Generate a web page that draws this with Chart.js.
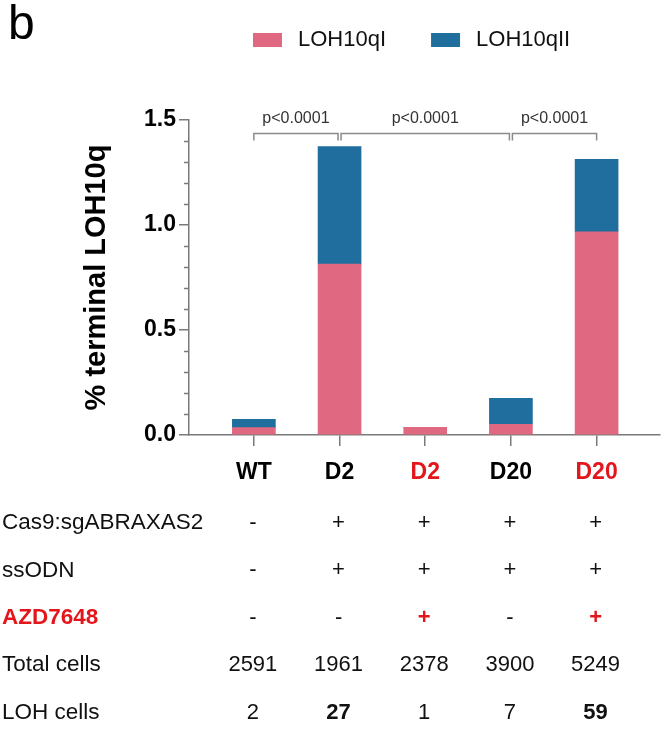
<!DOCTYPE html>
<html>
<head>
<meta charset="utf-8">
<script src="https://cdn.jsdelivr.net/npm/chart.js@4.4.0/dist/chart.umd.min.js"></script>
<style>
  html, body { margin: 0; padding: 0; background: #fff; }
  canvas { display: block; }
</style>
</head>
<body>
<canvas id="lohChart" width="670" height="739"></canvas>
<script>
// categories and values
const categories = ['WT', 'D2', 'D2', 'D20', 'D20'];
const categoryColors = ['#000000', '#000000', '#e3161c', '#000000', '#e3161c'];
const loh10qI = [0.035, 0.814, 0.037, 0.051, 0.968];
const loh10qII = [0.040, 0.559, 0, 0.124, 0.345];
const yMajorTicks = [0, 0.5, 1.0, 1.5];

// table under the chart
const rowLabels = ['Cas9:sgABRAXAS2', 'ssODN', 'AZD7648', 'Total cells', 'LOH cells'];
const cas9Row = ['-', '+', '+', '+', '+'];
const ssodnRow = ['-', '+', '+', '+', '+'];
const azdRow = ['-', '-', '+', '-', '+'];
const totalCells = [2591, 1961, 2378, 3900, 5249];
const lohCells = [2, 27, 1, 7, 59];
const lohBold = [false, true, false, false, true];

// significance brackets
const comparisons = [[0, 1], [1, 3], [3, 4]];
const pLabels = ['p<0.0001', 'p<0.0001', 'p<0.0001'];

const FONT = '"Liberation Sans", Arial, sans-serif';
const axisColor = '#7a7a7a';
const red = '#e3161c';

Chart.defaults.font.family = FONT;
Chart.defaults.color = '#000';

function isMajor(v) {
    return yMajorTicks.some(m => Math.abs(m - v) < 1e-6);
}

// dessin des éléments hors Chart.js : lettre, légende, crochets, tableau
const figureExtras = {
    id: 'figureExtras',
    afterDraw(chart) {
        const ctx = chart.ctx;
        const xs = chart.scales.x;
        const ys = chart.scales.y;
        ctx.save();

        // panel letter
        ctx.fillStyle = '#000';
        ctx.font = '48px ' + FONT;
        ctx.textAlign = 'left';
        ctx.textBaseline = 'alphabetic';
        ctx.fillText('b', 8, 39);

        // legend
        ctx.font = '22px ' + FONT;
        ctx.textBaseline = 'middle';
        let lx = 253;
        chart.data.datasets.forEach(ds => {
            ctx.fillStyle = ds.backgroundColor;
            ctx.fillRect(lx, 33, 29, 14);
            ctx.fillStyle = '#111';
            ctx.fillText(ds.label, lx + 45, 40);
            lx += 45 + ctx.measureText(ds.label).width + 45;
        });

        // minor y ticks
        ctx.strokeStyle = axisColor;
        ctx.lineWidth = 1.5;
        ys.ticks.forEach(t => {
            if (isMajor(t.value)) return;
            const py = Math.round(ys.getPixelForValue(t.value)) + 0.5;
            ctx.beginPath();
            ctx.moveTo(xs.left - 5, py);
            ctx.lineTo(xs.left, py);
            ctx.stroke();
        });

        // significance brackets
        const by = 133.5;
        comparisons.forEach(([a, b], k) => {
            let x1 = xs.getPixelForValue(a);
            let x2 = xs.getPixelForValue(b);
            if (k > 0) x1 += 1.5;
            if (k < comparisons.length - 1) x2 -= 1.5;
            ctx.strokeStyle = '#8a8a8a';
            ctx.lineWidth = 1.5;
            ctx.beginPath();
            ctx.moveTo(x1, by + 7);
            ctx.lineTo(x1, by);
            ctx.lineTo(x2, by);
            ctx.lineTo(x2, by + 7);
            ctx.stroke();
            ctx.fillStyle = '#333';
            ctx.font = '16px ' + FONT;
            ctx.textAlign = 'center';
            ctx.textBaseline = 'alphabetic';
            ctx.fillText(pLabels[k], (x1 + x2) / 2, 123);
        });

        // table
        const rows = [cas9Row, ssodnRow, azdRow, totalCells, lohCells];
        ctx.textBaseline = 'middle';
        rowLabels.forEach((lab, r) => {
            const ry = 523 + r * 47.4;
            ctx.textAlign = 'left';
            if (r === 2) {
                ctx.font = 'bold 22.5px ' + FONT;
                ctx.fillStyle = red;
            } else {
                ctx.font = '22.5px ' + FONT;
                ctx.fillStyle = '#111';
            }
            ctx.fillText(lab, 2, ry);

            ctx.textAlign = 'center';
            rows[r].forEach((v, i) => {
                const px = xs.getPixelForValue(i) - 1;
                let bold = false;
                let col = '#111';
                if (r === 2 && v === '+') { bold = true; col = red; }
                if (r === 4 && lohBold[i]) bold = true;
                ctx.font = (bold ? 'bold ' : '') + '22px ' + FONT;
                ctx.fillStyle = col;
                ctx.fillText(String(v), px, ry);
            });
        });

        ctx.restore();
    }
};

const ctx = document.getElementById('lohChart').getContext('2d');
const lohChart = new Chart(ctx, {
    type: 'bar',
    data: {
        datasets: [{
            label: 'LOH10qI',
            data: loh10qI.map((v, i) => ({x: i, y: v})),
            backgroundColor: '#e06880',
            borderWidth: 0,
            barThickness: 43
        }, {
            label: 'LOH10qII',
            data: loh10qII.map((v, i) => ({x: i, y: v})),
            backgroundColor: '#1f6e9e',
            borderWidth: 0,
            barThickness: 43
        }]
    },
    options: {
        responsive: false,
        animation: false,
        layout: {
            padding: {left: 60, right: 10, top: 120, bottom: 244}
        },
        plugins: {
            legend: {display: false},
            tooltip: {enabled: false}
        },
        scales: {
            x: {
                type: 'linear',
                stacked: true,
                offset: false,
                min: -0.757,
                max: 4.74,
                afterBuildTicks: s => {
                    s.ticks = categories.map((c, i) => ({value: i}));
                },
                afterFit: s => { s.height = 60; },
                grid: {
                    offset: false,
                    drawOnChartArea: false,
                    tickLength: 11,
                    color: axisColor,
                    lineWidth: 1.5
                },
                border: {color: axisColor, width: 1.5},
                ticks: {
                    autoSkip: false,
                    maxRotation: 0,
                    padding: 13,
                    font: {size: 23, weight: 'bold'},
                    color: c => categoryColors[c.index],
                    callback: v => categories[v]
                }
            },
            y: {
                stacked: true,
                min: 0,
                max: 1.5,
                afterFit: s => { s.width = 129; },
                grid: {
                    drawOnChartArea: false,
                    tickLength: 10,
                    lineWidth: 1.5,
                    tickColor: c => (c.tick && isMajor(c.tick.value)) ? axisColor : 'rgba(0,0,0,0)'
                },
                border: {color: axisColor, width: 1.5},
                ticks: {
                    stepSize: 0.1,
                    autoSkip: false,
                    padding: 3,
                    font: {size: 23, weight: 'bold'},
                    color: '#000',
                    callback: v => isMajor(v) ? v.toFixed(1) : ''
                },
                title: {
                    display: true,
                    text: '% terminal LOH10q',
                    font: {size: 29, weight: 'bold'},
                    color: '#000',
                    padding: {top: 20, bottom: 0}
                }
            }
        }
    },
    plugins: [figureExtras]
});
</script>
</body>
</html>
